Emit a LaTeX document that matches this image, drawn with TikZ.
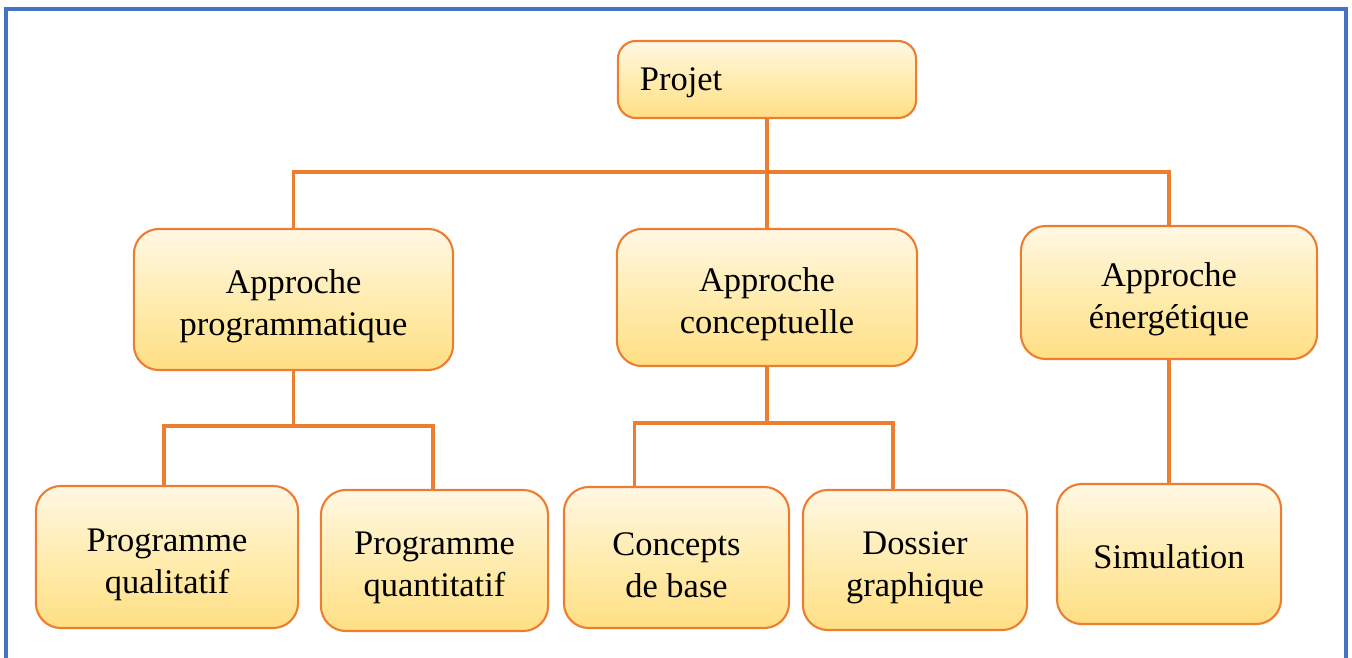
\documentclass[tikz,border=0pt]{standalone}
\usepackage{fontspec}
\setmainfont{Liberation Serif}
\usepackage{tikz}

\definecolor{orangeline}{RGB}{237,125,49}
\definecolor{frameblue}{RGB}{68,114,196}
\definecolor{goldtop}{RGB}{255,248,228}
\definecolor{goldmid}{RGB}{255,236,176}
\definecolor{goldbot}{RGB}{255,223,132}
\newcommand{\txtdown}[1]{\rule{0pt}{#1}}

\begin{document}
\begin{tikzpicture}[x=0.01cm, y=-0.01cm,
  every node/.style={outer sep=0pt, font=\fontsize{9.8}{11.9}\selectfont},
  box/.style={draw=orangeline, line width=0.6pt, rounded corners=0.25cm,
    top color=goldtop, bottom color=goldbot, middle color=goldmid,
    align=center, inner sep=0pt},
  link/.style={draw=orangeline, line width=0.9pt}]
\useasboundingbox (0,0) rectangle (1352,658);
\draw[frameblue, line width=1pt] (6,658) -- (6,9) -- (1346,9) -- (1346,658);

\node[box, rounded corners=0.18cm, text width=2.54cm, inner xsep=0.22cm, minimum height=0.77cm, align=left] (projet) at (767,79.5) {\txtdown{0.29cm}Projet};

\node[box, minimum width=3.19cm, minimum height=1.41cm] (progm) at (293.5,299.5) {\txtdown{0.38cm}Approche\\programmatique};
\node[box, minimum width=3.00cm, minimum height=1.37cm] (concept) at (767,297.5) {\txtdown{0.38cm}Approche\\conceptuelle};
\node[box, minimum width=2.96cm, minimum height=1.33cm] (energ) at (1169,292.5) {\txtdown{0.38cm}Approche\\énergétique};

\node[box, minimum width=2.62cm, minimum height=1.42cm] (qualit) at (167,557) {\txtdown{0.38cm}Programme\\qualitatif};
\node[box, minimum width=2.27cm, minimum height=1.41cm] (quantit) at (434.5,560.5) {\txtdown{0.38cm}Programme\\quantitatif};
\node[box, minimum width=2.25cm, minimum height=1.41cm] (base) at (676.5,557.5) {\txtdown{0.38cm}Concepts\\de base};
\node[box, minimum width=2.24cm, minimum height=1.40cm] (dossier) at (915,560) {\txtdown{0.38cm}Dossier\\graphique};
\node[box, minimum width=2.24cm, minimum height=1.40cm] (simul) at (1169,554) {\txtdown{0.29cm}Simulation};

\coordinate (b1) at (767,172);
\coordinate (b2) at (293.5,426);
\coordinate (b3) at (767,423);

\draw[link] (projet.south) -- (concept.north);
\draw[link] (progm.north) |- (b1) -| (energ.north);
\draw[link] (progm.south) -- (b2);
\draw[link] ([xshift=-0.03cm]qualit.north) |- (b2) -| ([xshift=-0.015cm]quantit.north);
\draw[link] (concept.south) -- (b3);
\draw[link] ([xshift=-0.42cm]base.north) |- (b3) -| ([xshift=-0.22cm]dossier.north);
\draw[link] (energ.south) -- (simul.north);
\end{tikzpicture}
\end{document}
